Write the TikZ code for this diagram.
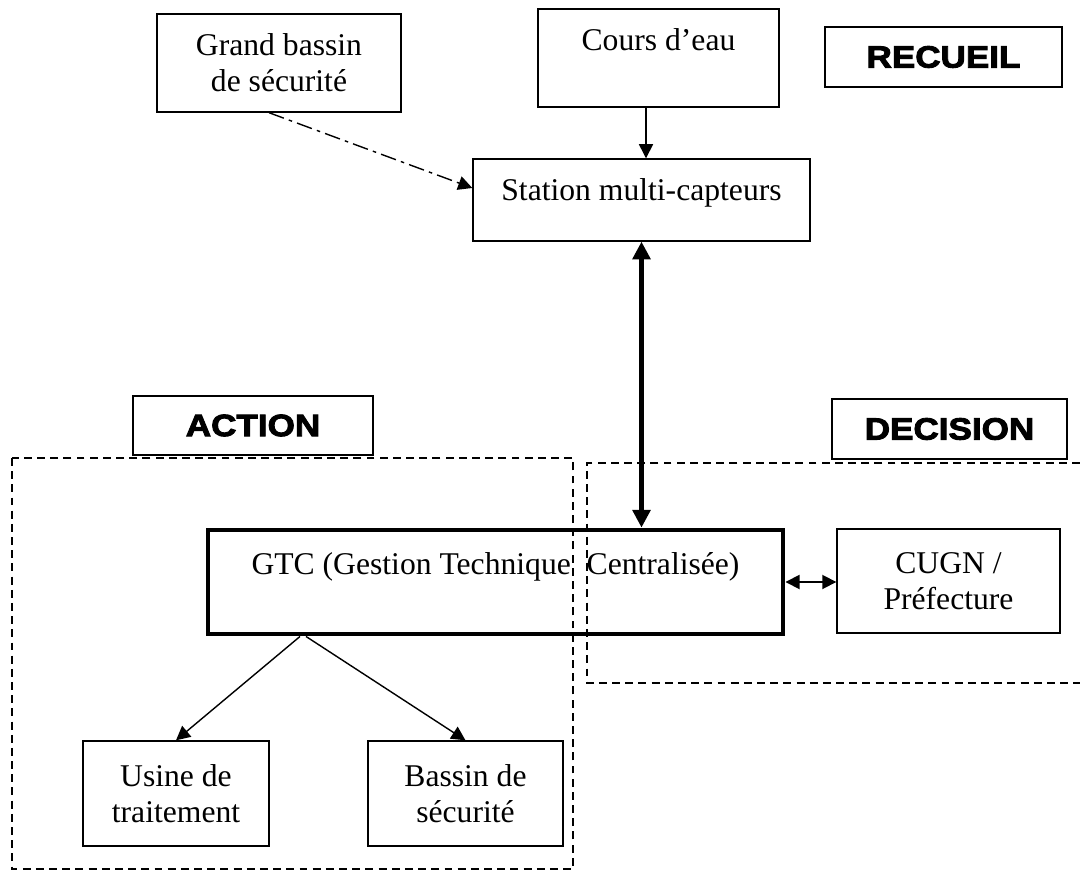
\documentclass[tikz,border=0pt]{standalone}
\usepackage{fontspec}
\setmainfont{Liberation Serif}
\newfontfamily\labelfont[FakeStretch=1.14,FakeBold=3]{Liberation Sans}
\usetikzlibrary{arrows.meta,positioning}

\begin{document}
\begin{tikzpicture}[
  box/.style={draw,line width=0.8pt,align=center,inner sep=2pt,font=\fontsize{18}{20.5}\selectfont},
  title/.style={draw,line width=0.8pt,inner sep=0pt,font=\labelfont\bfseries\fontsize{17.5}{20}\selectfont},
  zone/.style={line width=1pt,dash pattern=on 4.5pt off 3pt},
  tip/.style={-{Triangle[length=8pt,width=8pt]},line width=0.8pt},
  both/.style={{Triangle[length=8pt,width=8pt]}-{Triangle[length=8pt,width=8pt]},line width=1pt}
]
\useasboundingbox (0,0) rectangle (21.6,-17.42);
\draw[zone] (0.24,-9.16) rectangle (11.46,-17.38);
\draw[zone] (21.6,-9.26) -| (11.74,-13.66) -- (21.6,-13.66);
\node[box,minimum width=4.88cm,minimum height=1.96cm] (1) at (5.58,-1.26) {Grand bassin\\de sécurité};
\node[box,minimum width=4.82cm,minimum height=1.96cm,text depth=21pt] (2) at (13.17,-1.16) {Cours d’eau};
\node[title,minimum width=4.74cm,minimum height=1.2cm] (3) at (18.87,-1.14) {RECUEIL};
\node[box,minimum width=6.74cm,minimum height=1.64cm,text depth=12pt] (4) at (12.83,-4.0) {Station multi-capteurs};
\node[title,minimum width=4.8cm,minimum height=1.18cm] (9) at (5.06,-8.51) {ACTION};
\node[title,minimum width=4.7cm,minimum height=1.2cm] (10) at (18.99,-8.58) {DECISION};
\node[box,line width=2.8pt,minimum width=11.5cm,minimum height=2.08cm,text depth=21pt] (5) at (9.91,-11.64) {GTC (Gestion Technique\ \ Centralisée)};
\node[box,minimum width=4.46cm,minimum height=2.08cm] (6) at (18.97,-11.62) {CUGN /\\Préfecture};
\node[box,minimum width=3.72cm,minimum height=2.1cm] (7) at (3.52,-15.87) {Usine de\\traitement};
\node[box,minimum width=3.9cm,minimum height=2.1cm] (8) at (9.31,-15.87) {Bassin de\\sécurité};
\draw[tip] ([xshift=-0.25cm]2.south) -- ([xshift=-0.25cm]2.south |- 4.north);
\draw[tip,dash pattern=on 9pt off 3pt on 2pt off 3pt] ([xshift=-0.2cm]1.south) -- ([yshift=0.24cm]4.west);
\draw[line width=2.3pt,{Triangle[length=10pt,width=10pt]}-{Triangle[length=10pt,width=10pt]}] (4.south) -- (4.south |- 5.north);
\draw[both] (5.east) -- (5.east -| 6.west);
\draw[tip] ([xshift=-3.91cm]5.south) -- (7.north);
\draw[tip] ([xshift=-3.79cm]5.south) -- (8.north);
\end{tikzpicture}
\end{document}
